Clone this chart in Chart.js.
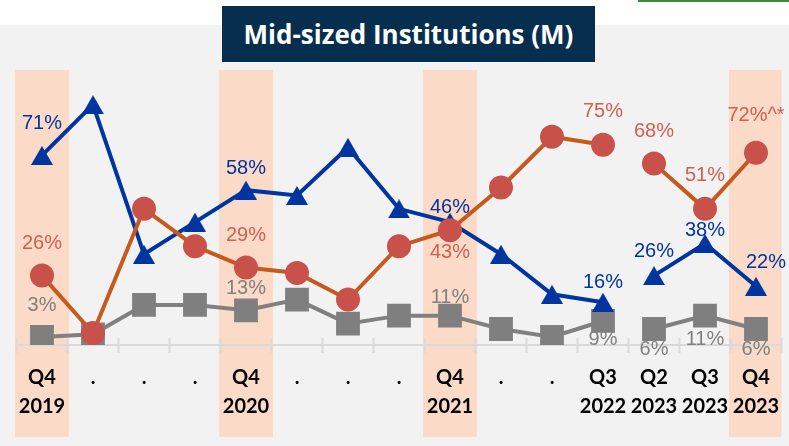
<!DOCTYPE html>
<html>
<head>
<meta charset="utf-8">
<script src="https://cdn.jsdelivr.net/npm/chart.js@4.4.0/dist/chart.umd.min.js"></script>
<style>
  html, body { margin: 0; padding: 0; background: #fff; }
  #wrap { position: relative; width: 789px; height: 446px; overflow: hidden; }
  #title {
    position: absolute; left: 222px; top: 6px; width: 373px; height: 56px;
    background: #062e4e; color: #fff; font-family: "Open Sans", sans-serif; font-weight: bold;
    font-size: 26px; display: flex; align-items: center; justify-content: center;
  }
  #greenLine { position: absolute; left: 638px; top: 0; width: 151px; height: 2px; background: #3d8b3d; }
</style>
</head>
<body>
<div id="wrap">
  <canvas id="chart" width="789" height="446"></canvas>
  <div id="greenLine"></div>
  <div id="title">Mid-sized Institutions (M)</div>
</div>
<script>
// quarters on the x axis
const quarters = [
  ['Q4', '2019'], '.', '.', '.', ['Q4', '2020'], '.', '.', '.',
  ['Q4', '2021'], '.', '.', ['Q3', '2022'], ['Q2', '2023'], ['Q3', '2023'], ['Q4', '2023']
];
const highlighted = [0, 4, 8, 14];   // shaded quarters
const breakAfter = 11;               // no line between Q3 2022 and Q2 2023

const blueValues   = [71, 90, 34, 46, 58, 56, 74, 51, 46, 34, 19, 16, 26, 38, 22];
const orangeValues = [26, 4.5, 51, 37, 29, 27, 17, 37, 43, 59, 78, 75, 68, 51, 72];
const grayValues   = [3, 4, 15, 15, 13, 17, 8, 11, 11, 6, 3, 9, 6, 11, 6];

const blueLabels   = ['71%', null, null, null, '58%', null, null, null, '46%', null, null, '16%', '26%', '38%', '22%'];
const orangeLabels = ['26%', null, null, null, '29%', null, null, null, '43%', null, null, '75%', '68%', '51%', '72%^*'];
const grayLabels   = ['3%', null, null, null, '13%', null, null, null, '11%', null, null, '9%', '6%', '11%', '6%'];

// label offsets from the point (dx, dy)
const blueOffsets   = { 0: [0, -32], 4: [0, -22], 8: [0, -15], 11: [0, -20], 12: [0, -24], 13: [0, -13], 14: [10, -24] };
const orangeOffsets = { 0: [0, -32], 4: [0, -32], 8: [0, 22], 11: [0, -33], 12: [0, -32], 13: [0, -33], 14: [0, -37] };
const grayOffsets   = { 0: [0, -32], 4: [0, -22], 8: [0, -18], 11: [0, 19], 12: [0, 21], 13: [0, 24], 14: [0, 21] };

// Excel-style triangle marker, centred on its bounding box
function triangleMarker(color) {
  const c = document.createElement('canvas');
  c.width = 22; c.height = 19;
  const g = c.getContext('2d');
  g.fillStyle = color;
  g.beginPath();
  g.moveTo(0, 19); g.lineTo(11, 0); g.lineTo(22, 19);
  g.closePath();
  g.fill();
  return c;
}

const gapSegment = {
  borderColor: ctx => ctx.p0DataIndex === breakAfter ? 'rgba(0,0,0,0)' : undefined
};

const backdrop = {
  id: 'backdrop',
  beforeDraw(chart) {
    const { ctx, chartArea, scales: { x } } = chart;
    ctx.save();
    ctx.fillStyle = '#ffffff';
    ctx.fillRect(0, 0, chart.width, chart.height);
    ctx.fillStyle = '#f2f2f2';
    ctx.fillRect(0, 25, chart.width, chart.height - 25);
    ctx.fillStyle = '#fbdac7';
    const half = (x.getPixelForValue(1) - x.getPixelForValue(0)) * 0.53;
    highlighted.forEach(i => {
      const cx = x.getPixelForValue(i);
      const l = Math.max(cx - half, chartArea.left - 2);
      const r = Math.min(cx + half, chartArea.right);
      ctx.fillRect(l, 70, r - l, 367);
    });
    ctx.restore();
  },
  beforeDatasetsDraw(chart) {
    const { ctx, chartArea, scales: { x } } = chart;
    const y0 = chartArea.bottom;
    ctx.save();
    ctx.strokeStyle = '#d9d9d9';
    ctx.lineWidth = 2;
    ctx.beginPath();
    ctx.moveTo(chartArea.left, y0);
    ctx.lineTo(chartArea.right, y0);
    const step = x.getPixelForValue(1) - x.getPixelForValue(0);
    for (let i = 0; i <= quarters.length; i++) {
      const px = x.getPixelForValue(0) - step / 2 + i * step;
      ctx.moveTo(px, y0 - 7);
      ctx.lineTo(px, y0 + 8);
    }
    ctx.stroke();
    ctx.restore();
  }
};

const pointLabels = {
  id: 'pointLabels',
  afterDatasetsDraw(chart) {
    const { ctx } = chart;
    ctx.save();
    ctx.font = '20px "Liberation Sans", Arial, sans-serif';
    ctx.textAlign = 'center';
    ctx.textBaseline = 'middle';
    chart.data.datasets.forEach((ds, di) => {
      const meta = chart.getDatasetMeta(di);
      ds.pointText.forEach((t, i) => {
        if (!t) return;
        const pt = meta.data[i];
        const off = ds.textOffsets[i] || [0, -25];
        ctx.fillStyle = ds.textColor;
        ctx.fillText(t, pt.x + off[0], pt.y + off[1]);
      });
    });
    ctx.restore();
  }
};

new Chart(document.getElementById('chart'), {
  type: 'line',
  data: {
    labels: quarters,
    datasets: [
      {
        label: 'Orange',
        data: orangeValues,
        borderColor: '#c65a1e',
        backgroundColor: '#c8524a',
        pointBackgroundColor: '#c8524a',
        pointBorderColor: '#c8524a',
        borderWidth: 4,
        pointStyle: 'circle',
        pointRadius: 10,
        pointHoverRadius: 10,
        segment: gapSegment,
        pointText: orangeLabels,
        textOffsets: orangeOffsets,
        textColor: '#d0604f'
      },
      {
        label: 'Blue',
        data: blueValues,
        borderColor: '#0035a0',
        backgroundColor: '#0035a0',
        borderWidth: 4,
        pointStyle: triangleMarker('#0035a0'),
        pointRadius: 11,
        pointHoverRadius: 11,
        segment: gapSegment,
        pointText: blueLabels,
        textOffsets: blueOffsets,
        textColor: '#0035a0'
      },
      {
        label: 'Gray',
        data: grayValues,
        borderColor: '#808080',
        backgroundColor: '#7f7f7f',
        pointBackgroundColor: '#7f7f7f',
        pointBorderColor: '#7f7f7f',
        borderWidth: 4,
        pointStyle: 'rect',
        pointRadius: 14,
        pointHoverRadius: 14,
        segment: gapSegment,
        pointText: grayLabels,
        textOffsets: grayOffsets,
        textColor: '#808080'
      }
    ]
  },
  options: {
    responsive: false,
    animation: false,
    layout: { autoPadding: false, padding: { left: 16.5, right: 7.5, top: 78, bottom: 0 } },
    plugins: { legend: { display: false }, tooltip: { enabled: false } },
    scales: {
      x: {
        type: 'category',
        offset: true,
        grid: { display: false, drawTicks: false },
        border: { display: false },
        ticks: {
          autoSkip: false,
          maxRotation: 0,
          color: '#000',
          padding: 18,
          font: { family: 'Lato', weight: 'bold', size: 20, lineHeight: 1.45 }
        },
        afterFit: s => {
          s.height = 101;
          s.paddingLeft = 0;
          s.paddingRight = 0;
        }
      },
      y: {
        display: false,
        min: 0,
        max: 100
      }
    }
  },
  plugins: [backdrop, pointLabels]
});
</script>
</body>
</html>
